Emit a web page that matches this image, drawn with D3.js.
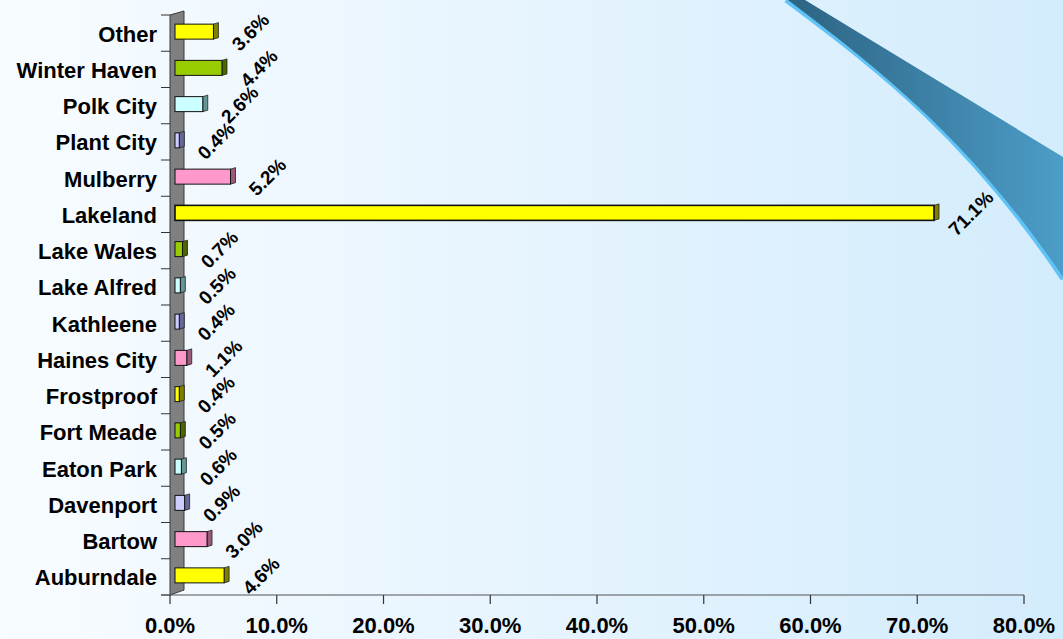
<!DOCTYPE html>
<html>
<head>
<meta charset="utf-8">
<script src="https://cdn.jsdelivr.net/npm/d3@7"></script>
<style>
  html, body { margin: 0; padding: 0; overflow: hidden; }
  text { font-family: "Liberation Sans", Arial, sans-serif; font-weight: bold; }
</style>
</head>
<body>
<svg id="chart" width="1063" height="639"></svg>
<script>
// top to bottom, as on the chart
const cities = ["Other", "Winter Haven", "Polk City", "Plant City", "Mulberry", "Lakeland",
  "Lake Wales", "Lake Alfred", "Kathleene", "Haines City", "Frostproof", "Fort Meade",
  "Eaton Park", "Davenport", "Bartow", "Auburndale"];
const shares = [3.6, 4.4, 2.6, 0.4, 5.2, 71.1, 0.7, 0.5, 0.4, 1.1, 0.4, 0.5, 0.6, 0.9, 3.0, 4.6];
const xTicks = [0, 10, 20, 30, 40, 50, 60, 70, 80];

// colour cycle starting from the bottom bar (front, side)
const fills = ["#FFFF00", "#FF99CC", "#CCCCFF", "#CCFFFF", "#99CC00"];
const sides = ["#808000", "#995A7A", "#676799", "#649696", "#4C6600"];

const svg = d3.select("#chart");
const W = 1063, H = 639;

const defs = svg.append("defs");
const bg = defs.append("linearGradient").attr("id", "bg").attr("x1", 0).attr("x2", 1).attr("y1", 0).attr("y2", 0);
bg.append("stop").attr("offset", "0%").attr("stop-color", "#F8FCFF");
bg.append("stop").attr("offset", "50%").attr("stop-color", "#E6F4FE");
bg.append("stop").attr("offset", "100%").attr("stop-color", "#D3ECFC");

const sw = defs.append("linearGradient").attr("id", "swoosh").attr("x1", 0).attr("x2", 1).attr("y1", 0).attr("y2", 0);
sw.append("stop").attr("offset", "0%").attr("stop-color", "#2C6382");
sw.append("stop").attr("offset", "100%").attr("stop-color", "#4C9DC8");

svg.append("rect").attr("width", W).attr("height", H).attr("fill", "url(#bg)");

// decorative swoosh top right
const lower = "M786,0 C880,70 970,140 1063,279";
svg.append("path").attr("d", lower).attr("fill", "none")
  .attr("stroke", "#5EC3F7").attr("stroke-width", 5);
svg.append("path")
  .attr("d", "M788,0 L805,0 L1063,157 L1063,277 C970,140 880,70 788,0 Z")
  .attr("fill", "url(#swoosh)");

const x = d3.scaleLinear().domain([0, 80]).range([170, 1024]);
const y = d3.scaleBand().domain(cities).range([15, 595]);
const depth = { dx: 5, dy: -1.5 };
const barH = 15;

// side wall
svg.append("polygon")
  .attr("points", [[170, 15], [184, 11], [184, 590], [170, 595]].map(p => p.join(",")).join(" "))
  .attr("fill", "#808080").attr("stroke", "#3a3a3a").attr("stroke-width", 1);

// category ticks
svg.selectAll(".ytick").data(d3.range(cities.length + 1)).join("line")
  .attr("x1", 161).attr("x2", 170)
  .attr("y1", i => 15 + i * y.step()).attr("y2", i => 15 + i * y.step())
  .attr("stroke", "#333").attr("stroke-width", 1);

// x axis
svg.append("line").attr("x1", 161).attr("x2", x(80)).attr("y1", 595).attr("y2", 595)
  .attr("stroke", "#555").attr("stroke-width", 1.2);
svg.selectAll(".xtick").data(xTicks).join("line")
  .attr("x1", d => x(d)).attr("x2", d => x(d)).attr("y1", 595).attr("y2", 604)
  .attr("stroke", "#333").attr("stroke-width", 1.2);
svg.selectAll(".xlab").data(xTicks).join("text")
  .attr("x", d => x(d)).attr("y", 633)
  .attr("text-anchor", "middle").attr("font-size", 22).attr("fill", "#000")
  .text(d => d.toFixed(1) + "%");

// category labels
svg.selectAll(".ylab").data(cities).join("text")
  .attr("x", 157).attr("y", d => y(d) + y.bandwidth() / 2 + 1)
  .attr("text-anchor", "end").attr("dominant-baseline", "central")
  .attr("font-size", 22).attr("fill", "#000")
  .text(d => d);

const rows = cities.map((c, i) => ({
  city: c,
  value: shares[i],
  ci: (cities.length - 1 - i) % fills.length
}));

const bars = svg.selectAll(".bar").data(rows).join("g");
bars.each(function (d) {
  const g = d3.select(this);
  const x0 = x(0) + depth.dx;
  const xe = x(d.value) + depth.dx;
  const top = y(d.city) + y.bandwidth() / 2 - 1.5 - barH / 2;
  const bot = top + barH;
  const sw = d.value > 50 ? 1.6 : 1;
  g.append("polygon")
    .attr("points", [[xe, top], [xe + depth.dx, top + depth.dy], [xe + depth.dx, bot + depth.dy], [xe, bot]]
      .map(p => p.join(",")).join(" "))
    .attr("fill", sides[d.ci]).attr("stroke", "#222").attr("stroke-width", 0.8);
  g.append("rect")
    .attr("x", x0).attr("y", top).attr("width", xe - x0).attr("height", barH)
    .attr("fill", fills[d.ci]).attr("stroke", "#111").attr("stroke-width", sw);
  const lx = xe + 37, ly = top + barH / 2 + 0.5;
  g.append("text")
    .attr("transform", `translate(${lx},${ly}) rotate(-45)`)
    .attr("text-anchor", "middle").attr("dominant-baseline", "central")
    .attr("font-size", 19).attr("fill", "#000")
    .text(d.value.toFixed(1) + "%");
});
</script>
</body>
</html>
